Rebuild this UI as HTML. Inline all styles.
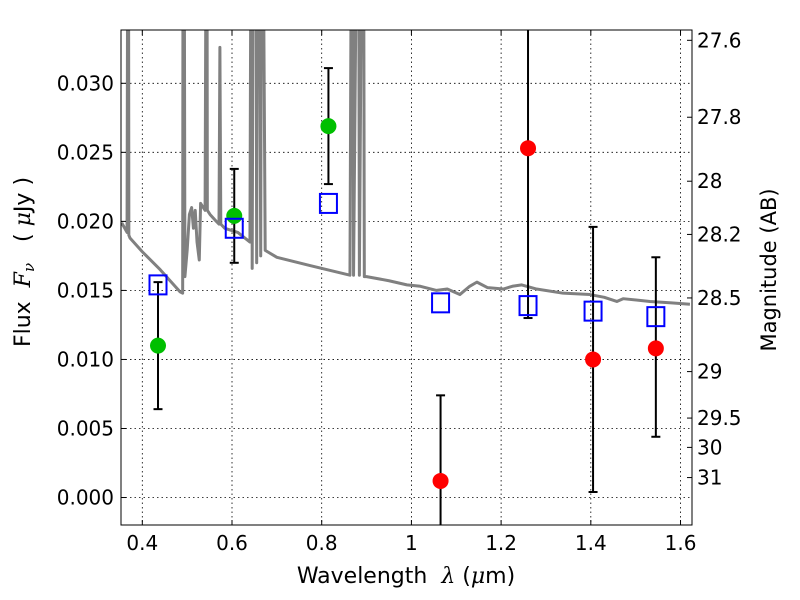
<!DOCTYPE html>
<html><head><meta charset="utf-8"><style>
body{margin:0;background:#fff;}
svg{display:block;font-family:"DejaVu Sans","Liberation Sans",sans-serif;}
</style></head><body>
<svg id="chart" width="800" height="600"></svg>
<script>
const specWave=[0.354,0.366,0.368,0.369,0.370,0.3725,0.40,0.44,0.484,0.490,0.491,0.493,0.495,0.500,0.505,0.510,0.514,0.518,0.522,0.527,0.530,0.540,0.543,0.544,0.545,0.551,0.565,0.571,0.573,0.575,0.584,0.613,0.640,0.643,0.644,0.645,0.648,0.653,0.655,0.657,0.660,0.664,0.666,0.668,0.674,0.700,0.774,0.863,0.867,0.869,0.871,0.880,0.882,0.884,0.891,0.893,0.895,0.900,0.950,0.990,1.020,1.056,1.080,1.108,1.130,1.146,1.170,1.205,1.225,1.246,1.279,1.338,1.398,1.430,1.458,1.472,1.532,1.580,1.621];
const specFlux=[0.0199,0.0192,0.05,0.05,0.0190,0.0188,0.0178,0.0165,0.0149,0.0148,0.05,0.05,0.0160,0.0179,0.0205,0.0210,0.0195,0.0208,0.0185,0.0172,0.0213,0.0208,0.05,0.05,0.0208,0.0205,0.0200,0.0198,0.0326,0.0198,0.0195,0.0192,0.0185,0.05,0.05,0.0166,0.05,0.05,0.0170,0.05,0.05,0.0175,0.05,0.05,0.0179,0.0174,0.0168,0.0161,0.05,0.05,0.0161,0.05,0.05,0.0161,0.05,0.05,0.0160,0.0160,0.0157,0.0154,0.0153,0.0150,0.0151,0.0147,0.0153,0.0156,0.0152,0.0151,0.0153,0.0154,0.0151,0.0148,0.0147,0.0145,0.0142,0.0144,0.0142,0.0141,0.0140];
const bandWave=[0.435,0.605,0.815,1.065,1.26,1.405,1.545];
const obsFlux=[0.0110,0.0204,0.0269,0.0012,0.0253,0.0100,0.0108];
const errLow=[0.0064,0.0170,0.0227,-0.0030,0.0130,0.0004,0.0044];
const errHigh=[0.0156,0.0238,0.0311,0.0074,0.0400,0.0196,0.0174];
const modelFlux=[0.0154,0.0195,0.0213,0.0141,0.0139,0.0135,0.0131];
const detected=[true,true,true,false,false,false,false];
const xTicks=[0.4,0.6,0.8,1.0,1.2,1.4,1.6];
const xTickLabels=["0.4","0.6","0.8","1","1.2","1.4","1.6"];
const yTicks=[0,0.005,0.010,0.015,0.020,0.025,0.030];
const yTickLabels=["0.000","0.005","0.010","0.015","0.020","0.025","0.030"];
const magTicks=[27.6,27.8,28,28.2,28.5,29,29.5,30,31];
const magTickLabels=["27.6","27.8","28","28.2","28.5","29","29.5","30","31"];

const L=121,R=692,T=30,B=525;
const X0=0.3525,X1=1.6256,Y0=-0.00199,Y1=0.03386;
const sx=v=>L+(v-X0)/(X1-X0)*(R-L);
const sy=v=>B-(v-Y0)/(Y1-Y0)*(B-T);
const magToFlux=m=>Math.pow(10,(23.9-m)/2.5);
const svg=document.getElementById('chart');
const NS='http://www.w3.org/2000/svg';
function mk(tag,attrs,parent){const e=document.createElementNS(NS,tag);for(const k in attrs)e.setAttribute(k,attrs[k]);(parent||svg).appendChild(e);return e;}

const defs=mk('defs',{});
const cp=mk('clipPath',{id:'clip'},defs);mk('rect',{x:L,y:T,width:R-L,height:B-T},cp);

const grid=mk('g',{});


xTicks.forEach(t=>{mk('line',{x1:sx(t),x2:sx(t),y1:T,y2:B,stroke:'#000','stroke-width':0.8,'stroke-dasharray':'1.5,3'},grid);});
yTicks.forEach(t=>{mk('line',{x1:L,x2:R,y1:sy(t),y2:sy(t),stroke:'#000','stroke-width':0.8,'stroke-dasharray':'1.5,3'},grid);});

const plot=mk('g',{'clip-path':'url(#clip)'});
const spec=mk('polyline',{points:specWave.map((w,i)=>sx(w)+','+sy(specFlux[i])).join(' '),fill:'none',stroke:'#808080','stroke-width':3,'stroke-linejoin':'round'},plot);



bandWave.forEach((w,i)=>{
  const g=mk('g',{},plot);
  
  
  const x=sx(w);
  mk('line',{x1:x,x2:x,y1:sy(errLow[i]),y2:sy(errHigh[i]),stroke:'#000','stroke-width':2},g);
  mk('line',{x1:x-4.5,x2:x+4.5,y1:sy(errLow[i]),y2:sy(errLow[i]),stroke:'#000','stroke-width':2},g);
  mk('line',{x1:x-4.5,x2:x+4.5,y1:sy(errHigh[i]),y2:sy(errHigh[i]),stroke:'#000','stroke-width':2},g);
  mk('circle',{cx:x,cy:sy(obsFlux[i]),r:8,fill:detected[i]?'#00bf00':'#ff0000'},g);
  const s=mk('rect',{x:x-8.5,y:sy(modelFlux[i])-9.5,width:17,height:19,fill:'none',stroke:'#0000ff','stroke-width':2},plot);
  
  
});

const frame=mk('rect',{x:L,y:T,width:R-L,height:B-T,fill:'none',stroke:'#000','stroke-width':1});



const xax=mk('g',{});


xTicks.forEach((t,i)=>{const x=sx(t);
  mk('line',{x1:x,x2:x,y1:B,y2:B-5,stroke:'#000'},xax);
  mk('line',{x1:x,x2:x,y1:T,y2:T+5,stroke:'#000'},xax);
  const tx=mk('text',{x:x,y:B+25,'text-anchor':'middle','font-size':20},xax);tx.textContent=xTickLabels[i];});
const yax=mk('g',{});


yTicks.forEach((t,i)=>{const y=sy(t);
  mk('line',{x1:L,x2:L+5,y1:y,y2:y,stroke:'#000'},yax);
  const tx=mk('text',{x:L-7,y:y+7,'text-anchor':'end','font-size':20},yax);tx.textContent=yTickLabels[i];});
const rax=mk('g',{});


magTicks.forEach((m,i)=>{const y=sy(magToFlux(m));
  mk('line',{x1:R-5,x2:R,y1:y,y2:y,stroke:'#000'},rax);
  const tx=mk('text',{x:R+5,y:y+7,'text-anchor':'start','font-size':20},rax);tx.textContent=magTickLabels[i];});
</script>
<svg style="position:absolute;left:0;top:0" width="800" height="600">
<text x="406" y="583" text-anchor="middle" font-size="22" font-family="DejaVu Sans, sans-serif" xml:space="preserve">Wavelength  <tspan font-style="italic" font-family="DejaVu Serif, serif">λ</tspan> (<tspan font-style="italic" font-family="DejaVu Serif, serif">μ</tspan>m)</text>
<text transform="translate(30,262) rotate(-90)" text-anchor="middle" font-size="22" font-family="DejaVu Sans, sans-serif" xml:space="preserve">Flux  <tspan font-style="italic" font-family="DejaVu Serif, serif">F</tspan><tspan font-style="italic" font-size="15" dy="4" font-family="DejaVu Serif, serif">ν</tspan><tspan dy="-4">   ( </tspan><tspan font-style="italic" font-family="DejaVu Serif, serif">μ</tspan>Jy )</text>
<text transform="translate(776,270) rotate(-90)" text-anchor="middle" font-size="21" font-family="DejaVu Sans, sans-serif">Magnitude (AB)</text>
</svg>
</body></html>
